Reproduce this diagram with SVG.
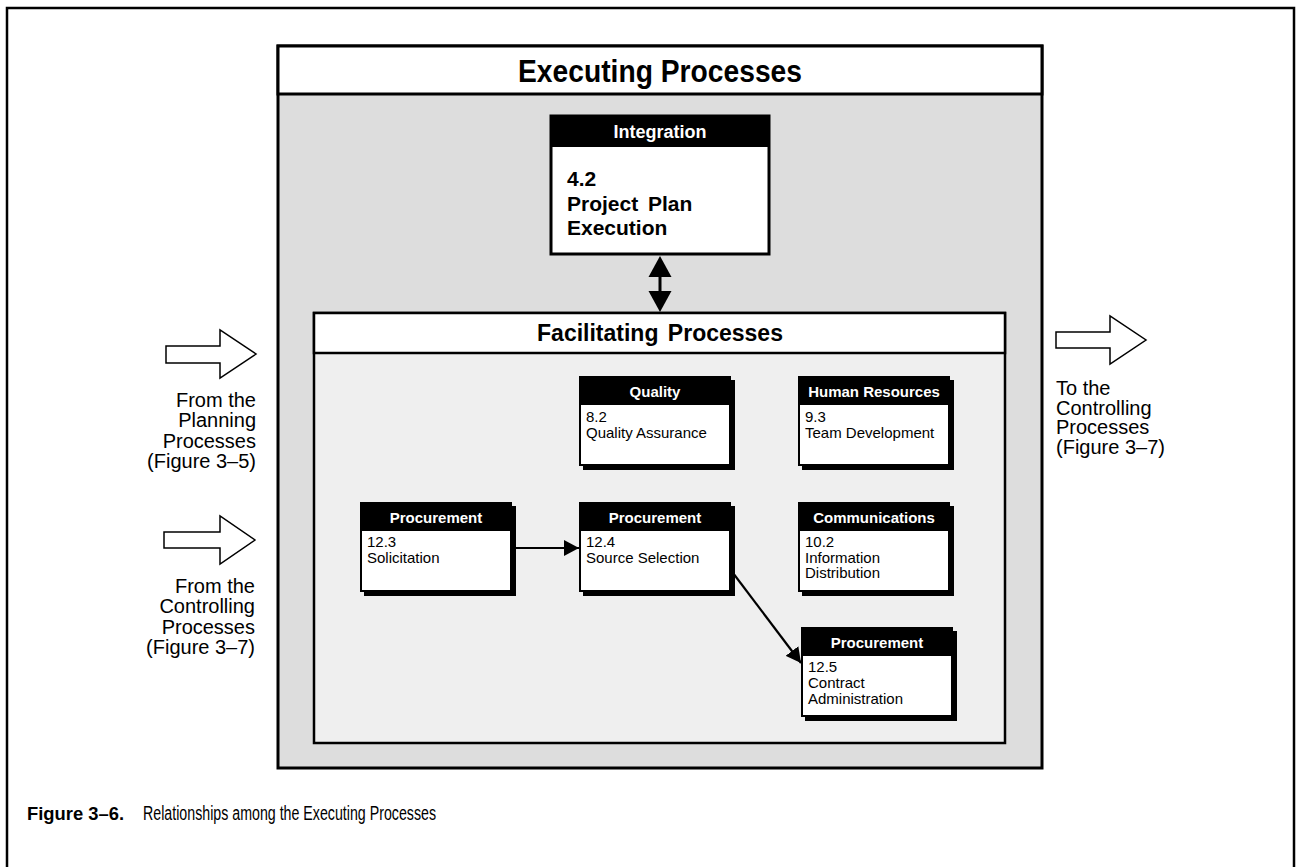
<svg xmlns="http://www.w3.org/2000/svg" width="1301" height="867" viewBox="0 0 1301 867">
<style>
.sans{font-family:"Liberation Sans",Arial,sans-serif;}
.hdr{font-family:"Liberation Sans",Arial,sans-serif;font-weight:bold;font-size:15px;fill:#fff;text-anchor:middle;}
.body{font-family:"Liberation Sans",Arial,sans-serif;font-size:15px;fill:#000;}
.side{font-family:"Liberation Sans",Arial,sans-serif;font-size:20px;fill:#000;}
.hollow{fill:#fff;stroke:#000;stroke-width:1.5;stroke-linejoin:miter;}
.conn{stroke:#000;stroke-width:2.2;fill:none;}
</style>
<defs>
<marker id="ah" markerUnits="userSpaceOnUse" markerWidth="16" markerHeight="16" refX="15" refY="8" orient="auto">
<path d="M0,0 L15,8 L0,16 z" fill="#000"/>
</marker>
</defs>
<rect x="0" y="0" width="1301" height="867" fill="#fff"/>
<!-- outer frame -->
<rect x="7" y="8" width="1287" height="900" fill="none" stroke="#000" stroke-width="2.5"/>

<!-- Executing Processes container -->
<g id="executing">
<rect x="278" y="46" width="764" height="722" fill="#dddddd" stroke="#000" stroke-width="3"/>
<rect x="278" y="46" width="764" height="48" fill="#fff" stroke="#000" stroke-width="3"/>
<text x="660" y="82" class="sans" font-weight="bold" font-size="31" text-anchor="middle" textLength="284" lengthAdjust="spacingAndGlyphs">Executing Processes</text>
</g>

<!-- Integration -->
<g id="integration">
<rect x="551" y="116" width="218" height="138" fill="#fff" stroke="#000" stroke-width="3"/>
<rect x="551" y="116" width="218" height="31" fill="#000"/>
<text x="660" y="138" class="sans" font-weight="bold" font-size="18" fill="#fff" text-anchor="middle">Integration</text>
<text class="sans" font-weight="bold" font-size="21" word-spacing="4">
<tspan x="567" y="186">4.2</tspan>
<tspan x="567" y="211">Project Plan</tspan>
<tspan x="567" y="235">Execution</tspan>
</text>
</g>

<!-- Facilitating Processes container -->
<g id="facilitating">
<rect x="314" y="313" width="691" height="430" fill="#efefef" stroke="#000" stroke-width="2.5"/>
<rect x="314" y="313" width="691" height="40" fill="#fff" stroke="#000" stroke-width="2.5"/>
<text x="660" y="341" class="sans" font-weight="bold" font-size="23" text-anchor="middle" word-spacing="3">Facilitating Processes</text>
</g>

<!-- process boxes -->
<g id="quality">
<rect x="583" y="380" width="152" height="90" fill="#000"/>
<rect x="579" y="376" width="152" height="90" fill="#000"/>
<rect x="581" y="405" width="148" height="59" fill="#fff"/>
<text x="655" y="397" class="hdr">Quality</text>
<text class="body"><tspan x="586" y="422">8.2</tspan><tspan x="586" y="438">Quality Assurance</tspan></text>
</g>

<g id="human-resources">
<rect x="802" y="380" width="152" height="90" fill="#000"/>
<rect x="798" y="376" width="152" height="90" fill="#000"/>
<rect x="800" y="405" width="148" height="59" fill="#fff"/>
<text x="874" y="397" class="hdr">Human Resources</text>
<text class="body"><tspan x="805" y="422">9.3</tspan><tspan x="805" y="438">Team Development</tspan></text>
</g>

<g id="proc-solicitation">
<rect x="364" y="506" width="152" height="90" fill="#000"/>
<rect x="360" y="502" width="152" height="90" fill="#000"/>
<rect x="362" y="531" width="148" height="59" fill="#fff"/>
<text x="436" y="523" class="hdr">Procurement</text>
<text class="body"><tspan x="367" y="547">12.3</tspan><tspan x="367" y="563">Solicitation</tspan></text>
</g>

<g id="proc-source-selection">
<rect x="583" y="506" width="152" height="90" fill="#000"/>
<rect x="579" y="502" width="152" height="90" fill="#000"/>
<rect x="581" y="531" width="148" height="59" fill="#fff"/>
<text x="655" y="523" class="hdr">Procurement</text>
<text class="body"><tspan x="586" y="547">12.4</tspan><tspan x="586" y="563">Source Selection</tspan></text>
</g>

<g id="communications">
<rect x="802" y="506" width="152" height="90" fill="#000"/>
<rect x="798" y="502" width="152" height="90" fill="#000"/>
<rect x="800" y="531" width="148" height="59" fill="#fff"/>
<text x="874" y="523" class="hdr">Communications</text>
<text class="body"><tspan x="805" y="547">10.2</tspan><tspan x="805" y="563">Information</tspan><tspan x="805" y="578">Distribution</tspan></text>
</g>

<g id="proc-contract-admin">
<rect x="805" y="631" width="152" height="90" fill="#000"/>
<rect x="801" y="627" width="152" height="90" fill="#000"/>
<rect x="803" y="656" width="148" height="59" fill="#fff"/>
<text x="877" y="648" class="hdr">Procurement</text>
<text class="body"><tspan x="808" y="672">12.5</tspan><tspan x="808" y="688">Contract</tspan><tspan x="808" y="704">Administration</tspan></text>
</g>

<!-- connectors -->
<g id="connectors">
<line x1="660" y1="270" x2="660" y2="296" stroke="#000" stroke-width="3"/>
<path d="M660,256 L671.5,277 L648.5,277 z" fill="#000"/>
<path d="M660,312 L671.5,291 L648.5,291 z" fill="#000"/>
<line x1="513" y1="548" x2="579" y2="548" class="conn" marker-end="url(#ah)"/>
<line x1="733" y1="573" x2="801" y2="663" class="conn" marker-end="url(#ah)"/>
</g>

<!-- side inputs / outputs -->
<g id="from-planning">
<path class="hollow" d="M166,346 L220,346 L220,330 L256,354 L220,378 L220,363 L166,363 z"/>
<text class="side" text-anchor="end"><tspan x="256" y="407">From the</tspan><tspan x="256" y="427.3">Planning</tspan><tspan x="256" y="447.6">Processes</tspan><tspan x="256" y="467.9">(Figure 3–5)</tspan></text>
</g>
<g id="from-controlling">
<path class="hollow" d="M164,532 L220,532 L220,516 L255,540 L220,564 L220,548 L164,548 z"/>
<text class="side" text-anchor="end"><tspan x="255" y="593">From the</tspan><tspan x="255" y="613.3">Controlling</tspan><tspan x="255" y="633.6">Processes</tspan><tspan x="255" y="653.9">(Figure 3–7)</tspan></text>
</g>
<g id="to-controlling">
<path class="hollow" d="M1056,332 L1110,332 L1110,316 L1146,340 L1110,364 L1110,348 L1056,348 z"/>
<text class="side"><tspan x="1056" y="395">To the</tspan><tspan x="1056" y="414.5">Controlling</tspan><tspan x="1056" y="434">Processes</tspan><tspan x="1056" y="453.5">(Figure 3–7)</tspan></text>
</g>

<!-- caption -->
<g id="caption">
<text x="27" y="820" class="sans" font-weight="bold" font-size="19" textLength="97" lengthAdjust="spacingAndGlyphs">Figure 3–6.</text>
<text x="143" y="820" class="sans" font-size="20" textLength="293" lengthAdjust="spacingAndGlyphs">Relationships among the Executing Processes</text>
</g>
</svg>
